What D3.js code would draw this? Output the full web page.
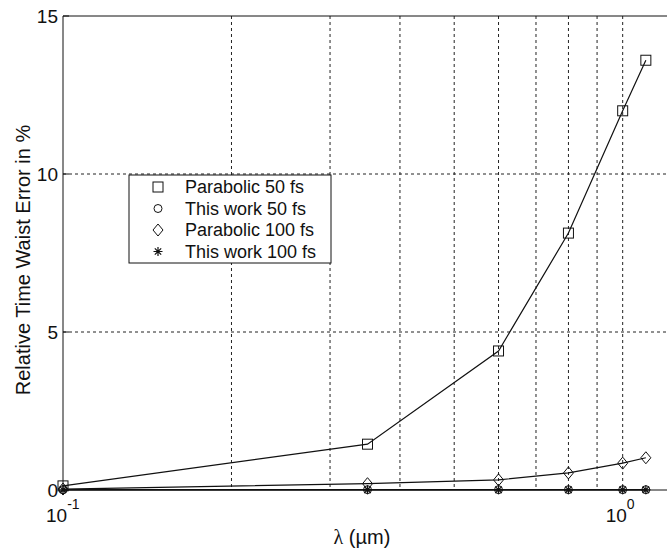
<!DOCTYPE html>
<html>
<head>
<meta charset="utf-8">
<script src="https://cdn.jsdelivr.net/npm/d3@7"></script>
<style>
  body { margin: 0; background: #fff; }
  text { font-family: "Liberation Sans", Arial, sans-serif; fill: #111; }
</style>
</head>
<body>
<div id="chart"></div>
<script>
// data
var wavelengths = [0.1, 0.35, 0.6, 0.8, 1.0, 1.1];
var parabolic50 = [0.13, 1.45, 4.4, 8.13, 12.0, 13.6];
var thisWork50 = [0.01, 0.01, 0.01, 0.01, 0.01, 0.01];
var parabolic100 = [0.03, 0.2, 0.32, 0.54, 0.85, 1.02];
var thisWork100 = [0.005, 0.005, 0.005, 0.005, 0.005, 0.005];
var seriesNames = ["Parabolic 50 fs", "This work 50 fs", "Parabolic 100 fs", "This work 100 fs"];
var yTicks = [0, 5, 10, 15];
var xGrid = [0.2, 0.3, 0.4, 0.5, 0.6, 0.7, 0.8, 0.9, 1.0];

var svgWidth = 667;
var svgHeight = 550;
var margin = { top: 16, right: 0, bottom: 60, left: 63 };
var width = svgWidth - margin.left - margin.right;
var height = svgHeight - margin.top - margin.bottom;

var svg = d3.select("#chart")
  .append("svg")
  .attr("width", svgWidth)
  .attr("height", svgHeight);

var chartGroup = svg.append("g")
  .attr("transform", `translate(${margin.left}, ${margin.top})`);

var x = d3.scaleLog().domain([0.1, 1.2]).range([0, width]);
var y = d3.scaleLinear().domain([0, 15]).range([height, 0]);

//grid
chartGroup.selectAll(".vgrid")
  .data(xGrid)
  .enter()
  .append("line")
  .attr("x1", d => x(d)).attr("x2", d => x(d))
  .attr("y1", 0).attr("y2", height)
  .attr("stroke", "#222")
  .attr("stroke-width", 1)
  .attr("stroke-dasharray", "3,3");

chartGroup.selectAll(".hgrid")
  .data([5, 10])
  .enter()
  .append("line")
  .attr("x1", 0).attr("x2", width)
  .attr("y1", d => y(d)).attr("y2", d => y(d))
  .attr("stroke", "#222")
  .attr("stroke-width", 1)
  .attr("stroke-dasharray", "3,3");

//inward ticks on y
chartGroup.selectAll(".ytick")
  .data(yTicks)
  .enter()
  .append("line")
  .attr("x1", 0).attr("x2", 6)
  .attr("y1", d => y(d)).attr("y2", d => y(d))
  .attr("stroke", "#111");

chartGroup.selectAll(".ylab")
  .data(yTicks)
  .enter()
  .append("text")
  .attr("x", -5)
  .attr("y", d => y(d) + 7)
  .attr("text-anchor", "end")
  .style("font-size", "19px")
  .text(d => d);

//frame: left, top, bottom
chartGroup.append("line").attr("x1", 0).attr("x2", 0).attr("y1", 0).attr("y2", height).attr("stroke", "#111");
chartGroup.append("line").attr("x1", 0).attr("x2", width).attr("y1", 0).attr("y2", 0).attr("stroke", "#111");
chartGroup.append("line").attr("x1", 0).attr("x2", width).attr("y1", height).attr("y2", height).attr("stroke", "#111");

//x tick labels 10^-1 and 10^0
[[0.1, "-1"], [1, "0"]].forEach(function(t) {
  var lab = chartGroup.append("text")
    .attr("x", x(t[0]) - 17)
    .attr("y", height + 32)
    .style("font-size", "19px");
  lab.append("tspan").text("10");
  lab.append("tspan").attr("dy", -13).style("font-size", "14px").text(t[1]);
});

//lines + markers
var allSeries = [parabolic50, thisWork50, parabolic100, thisWork100];
var line = d3.line()
  .x((d, i) => x(wavelengths[i]))
  .y(d => y(d));

allSeries.forEach(function(s) {
  chartGroup.append("path")
    .datum(s)
    .attr("d", line)
    .attr("fill", "none")
    .attr("stroke", "#111")
    .attr("stroke-width", 1.2);
});

function drawMarker(g, kind, cx, cy) {
  if (kind === 0) {
    g.append("rect").attr("x", cx - 5).attr("y", cy - 5).attr("width", 10).attr("height", 10)
      .attr("fill", "none").attr("stroke", "#111");
  } else if (kind === 1) {
    g.append("circle").attr("cx", cx).attr("cy", cy).attr("r", 4)
      .attr("fill", "none").attr("stroke", "#111");
  } else if (kind === 2) {
    g.append("path").attr("d", `M${cx},${cy - 6}L${cx + 5},${cy}L${cx},${cy + 6}L${cx - 5},${cy}Z`)
      .attr("fill", "none").attr("stroke", "#111");
  } else {
    var r = 4.5;
    var p = "";
    for (var k = 0; k < 4; k++) {
      var a = k * Math.PI / 4;
      p += `M${cx - r * Math.cos(a)},${cy - r * Math.sin(a)}L${cx + r * Math.cos(a)},${cy + r * Math.sin(a)}`;
    }
    g.append("path").attr("d", p).attr("stroke", "#111").attr("stroke-width", 1.2);
  }
}

allSeries.forEach(function(s, k) {
  s.forEach(function(v, i) {
    drawMarker(chartGroup, k, x(wavelengths[i]), y(v));
  });
});

//legend
var legend = svg.append("g").attr("transform", "translate(129, 175)");
legend.append("rect")
  .attr("width", 202).attr("height", 88)
  .attr("fill", "#fff").attr("stroke", "#111");
seriesNames.forEach(function(n, i) {
  var ly = 12 + i * 21.5;
  drawMarker(legend, i, 29, ly);
  legend.append("text")
    .attr("x", 56)
    .attr("y", ly + 6)
    .style("font-size", "18px")
    .text(n);
});

//axis titles
svg.append("text")
  .attr("transform", "rotate(-90)")
  .attr("x", -260)
  .attr("y", 30)
  .attr("text-anchor", "middle")
  .style("font-size", "20px")
  .text("Relative Time Waist Error in %");

var xt = svg.append("text")
  .attr("x", 362)
  .attr("y", 544)
  .attr("text-anchor", "middle")
  .style("font-size", "20px");
xt.append("tspan").style("font-family", "'Liberation Serif', serif").text("λ");
xt.append("tspan").text(" (µm)");
</script>
</body>
</html>
